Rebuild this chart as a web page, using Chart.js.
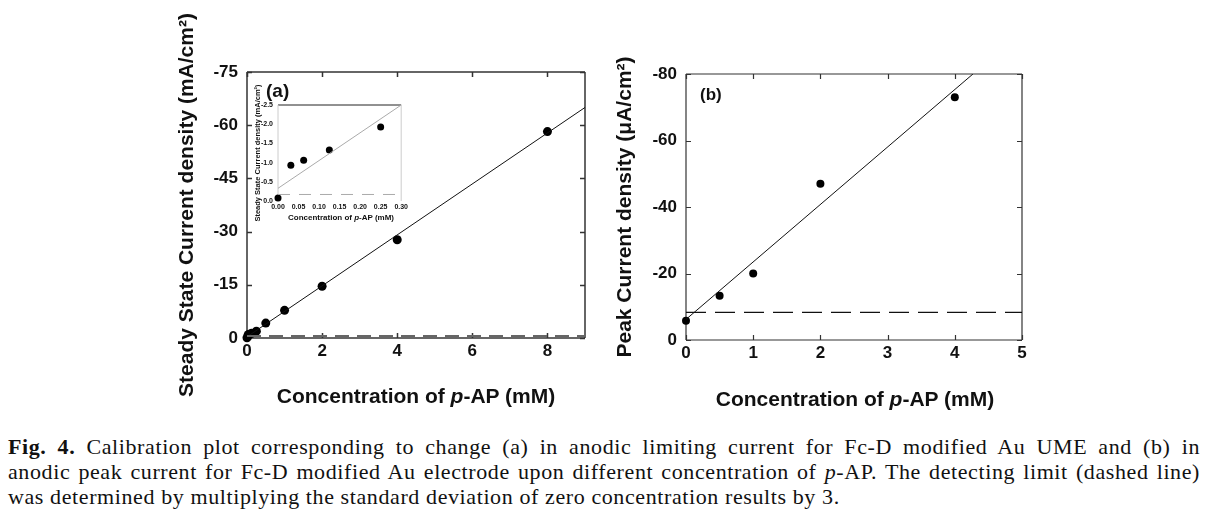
<!DOCTYPE html>
<html>
<head>
<meta charset="utf-8">
<script src="https://cdn.jsdelivr.net/npm/chart.js@4.4.1/dist/chart.umd.min.js"></script>
<style>
  body { margin: 0; background: #fff; width: 1210px; height: 517px; overflow: hidden; position: relative; font-family: 'Liberation Sans', Arial, sans-serif; }
  canvas { position: absolute; }
  .lbl { position: absolute; font-weight: bold; color: #111; white-space: nowrap; line-height: 1; }
  .xt { transform: translate(-50%, -50%); }
  #caption { position: absolute; left: 8px; top: 434px; width: 1192px; font-family: 'Liberation Serif', 'Times New Roman', serif; font-size: 22px; letter-spacing: 0.6px; line-height: 25px; color: #111; }
  #caption div { white-space: nowrap; }
  #caption .j { text-align: justify; text-align-last: justify; white-space: normal; }
</style>
</head>
<body>
<canvas id="chartA" width="600" height="420" style="left:0;top:0"></canvas>
<canvas id="chartB" width="610" height="420" style="left:600px;top:0"></canvas>
<canvas id="inset" width="165" height="155" style="left:245px;top:72px"></canvas>

<div class="lbl" style="left:266px;top:81px;font-size:19px">(a)</div>
<div class="lbl" style="left:700px;top:86px;font-size:17px">(b)</div>
<div class="lbl xt" style="left:416px;top:395px;font-size:21px">Concentration of <i>p</i>-AP (mM)</div>
<div class="lbl xt" style="left:855px;top:398px;font-size:21px">Concentration of <i>p</i>-AP (mM)</div>
<div class="lbl xt" style="left:341px;top:218px;font-size:8px">Concentration of <i>p</i>-AP (mM)</div>

<div id="caption">
  <div class="j"><b>Fig. 4.</b> Calibration plot corresponding to change (a) in anodic limiting current for Fc-D modified Au UME and (b) in</div>
  <div class="j">anodic peak current for Fc-D modified Au electrode upon different concentration of <i>p</i>-AP. The detecting limit (dashed line)</div>
  <div>was determined by multiplying the standard deviation of zero concentration results by 3.</div>
</div>

<script>
// (a) steady state current density vs p-AP concentration
const concA = [0, 0.03125, 0.0625, 0.125, 0.25, 0.5, 1, 2, 4, 8];
const currA = [-0.08, -0.93, -1.06, -1.33, -1.93, -4.2, -7.8, -14.6, -27.7, -58.2];
const fitAX = [0, 9];
const fitAY = [-0.33, -65.0];
const limitAX = [0, 9];
const limitAY = [-0.55, -0.55];
const ticksAX = [0, 2, 4, 6, 8];
const ticksAY = [-75, -60, -45, -30, -15, 0];

// inset of (a), low concentrations
const insetX = [0, 0.03125, 0.0625, 0.125, 0.25];
const insetY = [-0.08, -0.93, -1.06, -1.33, -1.93];
const fitInX = [0, 0.3];
const fitInY = [-0.33, -2.5];
const limitInX = [0, 0.3];
const limitInY = [-0.17, -0.17];

// (b) peak current density
const concB = [0, 0.5, 1, 2, 4];
const currB = [-5.8, -13.3, -20, -47, -73];
const fitBX = [0, 4.27];
const fitBY = [-6.2, -80];
const limitBX = [0, 5];
const limitBY = [-8.3, -8.3];

const pts = (xs, ys) => xs.map((x, i) => ({ x, y: ys[i] }));

// box around the plot area plus inward tick marks
const frame = {
  id: 'frame',
  beforeDatasetsDraw(chart, args, o) {
    const { ctx, chartArea: a, scales } = chart;
    ctx.save();
    ctx.lineWidth = o.width;
    const side = (c, x1, y1, x2, y2) => {
      if (!c) return;
      ctx.strokeStyle = c;
      ctx.beginPath(); ctx.moveTo(x1, y1); ctx.lineTo(x2, y2); ctx.stroke();
    };
    side(o.top, a.left, a.top, a.right, a.top);
    side(o.bottom, a.left, a.bottom, a.right, a.bottom);
    side(o.left, a.left, a.top, a.left, a.bottom);
    side(o.right, a.right, a.top, a.right, a.bottom);
    if (o.tick) {
      ctx.strokeStyle = o.top;
      scales.x.ticks.forEach(t => {
        const px = Math.round(scales.x.getPixelForValue(t.value)) + 0.5;
        ctx.beginPath(); ctx.moveTo(px, a.bottom); ctx.lineTo(px, a.bottom - o.tick);
        ctx.moveTo(px, a.top); ctx.lineTo(px, a.top + o.tick); ctx.stroke();
      });
      scales.y.ticks.forEach(t => {
        const py = Math.round(scales.y.getPixelForValue(t.value)) + 0.5;
        ctx.beginPath(); ctx.moveTo(a.left, py); ctx.lineTo(a.left + o.tick, py);
        ctx.moveTo(a.right, py); ctx.lineTo(a.right - o.tick, py); ctx.stroke();
      });
    }
    ctx.restore();
  }
};

function fixedTicks(list) {
  return function (scale) { scale.ticks = list.map(v => ({ value: v })); };
}

function makeChart(id, cfg) {
  return new Chart(document.getElementById(id), {
    type: 'scatter',
    data: { datasets: cfg.datasets },
    plugins: [frame],
    options: {
      responsive: false,
      animation: false,
      layout: { padding: cfg.padding },
      plugins: { legend: { display: false }, tooltip: { enabled: false }, frame: cfg.frame },
      scales: {
        x: {
          type: 'linear', min: cfg.xmin, max: cfg.xmax,
          afterBuildTicks: fixedTicks(cfg.xticks),
          afterFit: s => { s.height = cfg.xh; },
          grid: { display: false, drawTicks: false },
          border: { display: false },
          ticks: { padding: cfg.tickPadX, color: '#111', font: { family: 'Liberation Sans', weight: 'bold', size: cfg.tickSize }, callback: cfg.xfmt }
        },
        y: {
          type: 'linear', min: cfg.ymin, max: 0, reverse: true,
          afterBuildTicks: fixedTicks(cfg.yticks),
          afterFit: s => { s.width = cfg.yw; },
          grid: { display: false, drawTicks: false },
          border: { display: false },
          ticks: { padding: cfg.tickPadY, color: '#111', font: { family: 'Liberation Sans', weight: 'bold', size: cfg.tickSize }, callback: cfg.yfmt },
          title: { display: true, text: cfg.ytitle, color: '#111', padding: 0, font: { family: 'Liberation Sans', weight: 'bold', size: cfg.titleSize } }
        }
      }
    }
  });
}

makeChart('chartA', {
  padding: { left: 175, top: 72, right: 15, bottom: 42 },
  xmin: 0, xmax: 9, ymin: -75,
  xticks: ticksAX, yticks: ticksAY,
  xh: 40, yw: 72, tickSize: 17, tickPadX: 3, tickPadY: 9, titleSize: 21,
  xfmt: v => v, yfmt: v => v,
  ytitle: 'Steady State Current density (mA/cm²)',
  frame: { width: 1.5, top: '#333', bottom: '#333', left: '#333', right: '#333', tick: 5 },
  datasets: [
    { data: pts(limitAX, limitAY), showLine: true, borderColor: '#666', borderWidth: 2, borderDash: [14, 8], pointRadius: 0 },
    { data: pts(fitAX, fitAY), showLine: true, borderColor: '#111', borderWidth: 1, pointRadius: 0 },
    { data: pts(concA, currA), pointRadius: 4.5, backgroundColor: '#000', borderWidth: 0, clip: false }
  ]
});

makeChart('inset', {
  padding: { left: 8, top: 33, right: 8, bottom: 4 },
  xmin: 0, xmax: 0.3, ymin: -2.5,
  xticks: [0, 0.05, 0.1, 0.15, 0.2, 0.25, 0.3], yticks: [-2.5, -2, -1.5, -1, -0.5, 0],
  xh: 22, yw: 25, tickSize: 7, tickPadX: 2, tickPadY: 5, titleSize: 7.5,
  xfmt: v => v.toFixed(2), yfmt: v => v.toFixed(1),
  ytitle: 'Steady State Current density (mA/cm²)',
  frame: { width: 1, top: '#222', bottom: null, left: '#ccc', right: '#ccc', tick: 0 },
  datasets: [
    { data: pts(limitInX, limitInY), showLine: true, borderColor: '#aaa', borderWidth: 1, borderDash: [12, 9], pointRadius: 0 },
    { data: pts(fitInX, fitInY), showLine: true, borderColor: '#aaa', borderWidth: 1, pointRadius: 0 },
    { data: pts(insetX, insetY), pointRadius: 3.5, backgroundColor: '#000', borderWidth: 0, clip: false }
  ]
});

makeChart('chartB', {
  padding: { left: 13, top: 74, right: 188, bottom: 40 },
  xmin: 0, xmax: 5, ymin: -80,
  xticks: [0, 1, 2, 3, 4, 5], yticks: [-80, -60, -40, -20, 0],
  xh: 40, yw: 73, tickSize: 17, tickPadX: 3, tickPadY: 9, titleSize: 21,
  xfmt: v => v, yfmt: v => v,
  ytitle: 'Peak Current density (μA/cm²)',
  frame: { width: 1.2, top: '#333', bottom: '#333', left: '#333', right: '#333', tick: 5 },
  datasets: [
    { data: pts(limitBX, limitBY), showLine: true, borderColor: '#111', borderWidth: 1.2, borderDash: [20, 9], pointRadius: 0 },
    { data: pts(fitBX, fitBY), showLine: true, borderColor: '#111', borderWidth: 1, pointRadius: 0 },
    { data: pts(concB, currB), pointRadius: 4, backgroundColor: '#000', borderWidth: 0, clip: false }
  ]
});
</script>
</body>
</html>
